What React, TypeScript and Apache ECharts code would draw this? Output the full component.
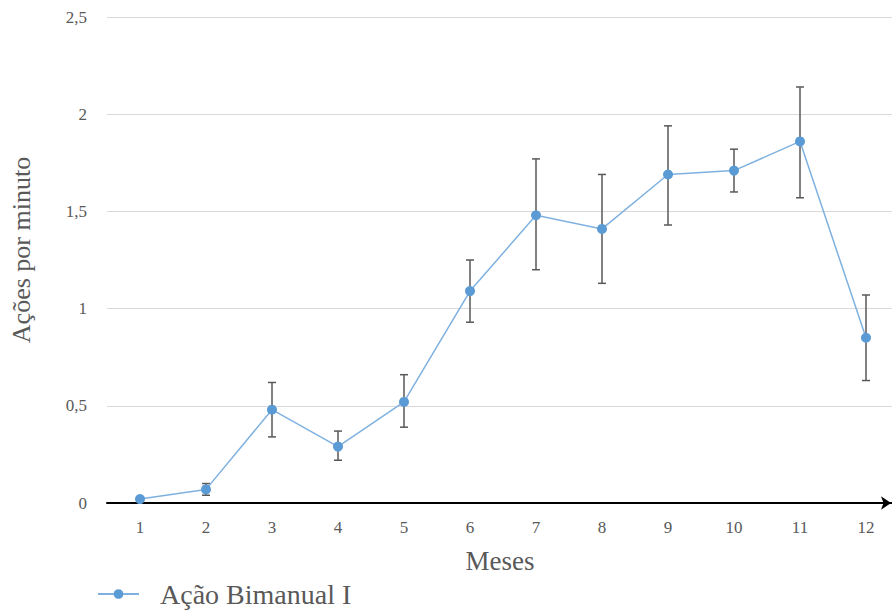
import React, { useEffect, useRef } from "react";
import * as echarts from "echarts";

const months = ["1", "2", "3", "4", "5", "6", "7", "8", "9", "10", "11", "12"];
const means = [0.02, 0.07, 0.48, 0.29, 0.52, 1.09, 1.48, 1.41, 1.69, 1.71, 1.86, 0.85];
const upper = [0.025, 0.1, 0.62, 0.37, 0.66, 1.25, 1.77, 1.69, 1.94, 1.82, 2.14, 1.07];
const lower = [0.015, 0.04, 0.34, 0.22, 0.39, 0.93, 1.2, 1.13, 1.43, 1.6, 1.57, 0.63];
const seriesName = "Ação Bimanual I";
const yTitle = "Ações por minuto";
const xTitle = "Meses";

const FONT = "'Liberation Serif', 'Times New Roman', serif";
const GRAY = "#595959";

export default function App() {
  const ref = useRef<HTMLDivElement>(null);
  useEffect(() => {
    document.body.style.margin = "0";
    document.body.style.overflow = "hidden";
    document.documentElement.style.overflow = "hidden";
    const chart = echarts.init(ref.current!, null, { renderer: "svg" });
    const errData = months.map((_, i) => [i, lower[i], upper[i]]);
    chart.setOption({
      animation: false,
      backgroundColor: "#ffffff",
      textStyle: { fontFamily: FONT },
      grid: { left: 107, right: 1, top: 17, bottom: 109, containLabel: false },
      legend: {
        left: 97,
        top: 580,
        padding: 0,
        itemWidth: 41,
        itemHeight: 12,
        data: [seriesName],
        textStyle: { fontFamily: FONT, fontSize: 28, color: GRAY, padding: [0, 0, 0, 16] },
      },
      xAxis: {
        type: "category",
        data: months,
        boundaryGap: true,
        name: xTitle,
        nameLocation: "middle",
        nameGap: 44,
        nameTextStyle: { fontFamily: FONT, fontSize: 27, color: GRAY, padding: [0, 6, 0, 0] },
        axisLine: {
          show: true,
          symbol: ["none", "arrow"],
          symbolSize: [10, 10],
          symbolOffset: [0, -8],
          lineStyle: { color: "#000000", width: 2 },
        },
        axisTick: { show: false },
        axisLabel: { fontFamily: FONT, fontSize: 17, color: GRAY, margin: 16 },
        splitLine: { show: false },
      },
      yAxis: {
        type: "value",
        min: 0,
        max: 2.5,
        interval: 0.5,
        name: yTitle,
        nameLocation: "middle",
        nameGap: 73,
        nameRotate: 90,
        nameTextStyle: { fontFamily: FONT, fontSize: 26, color: GRAY, padding: [0, 0, 0, 20] },
        axisLine: { show: false },
        axisTick: { show: false },
        axisLabel: {
          fontFamily: FONT,
          fontSize: 17,
          color: GRAY,
          margin: 20,
          formatter: (v: number) => String(v).replace(".", ","),
        },
        splitLine: { show: true, lineStyle: { color: "#d9d9d9", width: 1 } },
      },
      series: [
        {
          type: "custom",
          name: "err",
          z: 1,
          data: errData,
          encode: { x: 0, y: [1, 2] },
          renderItem: (params: any, api: any) => {
            const x = api.value(0);
            const lo = api.coord([x, api.value(1)]);
            const hi = api.coord([x, api.value(2)]);
            const hw = 4;
            const style = { stroke: "#595959", lineWidth: 1.5 };
            return {
              type: "group",
              children: [
                { type: "line", shape: { x1: hi[0], y1: hi[1], x2: lo[0], y2: lo[1] }, style },
                { type: "line", shape: { x1: hi[0] - hw, y1: hi[1], x2: hi[0] + hw, y2: hi[1] }, style },
                { type: "line", shape: { x1: lo[0] - hw, y1: lo[1], x2: lo[0] + hw, y2: lo[1] }, style },
              ],
            };
          },
        },
        {
          type: "line",
          name: seriesName,
          z: 3,
          data: means,
          symbol: "circle",
          symbolSize: 10,
          itemStyle: { color: "#5B9BD5" },
          lineStyle: { color: "#7FB1E0", width: 1.5 },
        },
      ],
    });
    return () => chart.dispose();
  }, []);
  return <div ref={ref} style={{ width: 900, height: 612 }} />;
}
